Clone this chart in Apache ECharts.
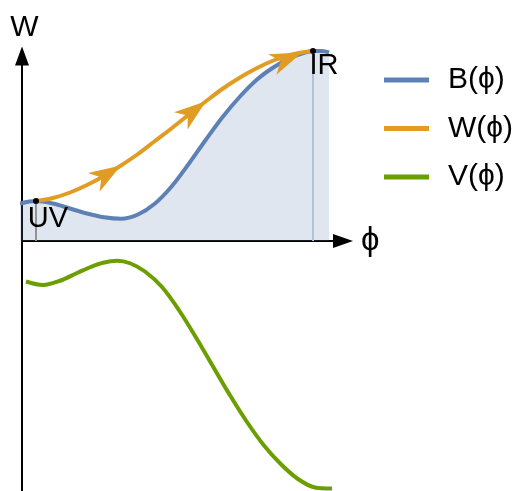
<!DOCTYPE html>
<html>
<head>
<meta charset="utf-8">
<script src="https://cdn.jsdelivr.net/npm/echarts@6/dist/echarts.min.js"></script>
<style>
  html, body { margin: 0; padding: 0; background: #fff; }
  #chart { width: 513px; height: 491px; }
</style>
</head>
<body>
<div id="chart"></div>
<script>
const FONT = '"Liberation Sans", "DejaVu Sans", sans-serif';

// B(ϕ): upper edge of the shaded region
const bPhi = [-0.08, 0.56, 1.24, 1.92, 2.60, 3.28, 3.96, 4.64, 5.32, 6.00, 6.68, 7.36, 8.04, 8.72, 9.40, 10.08, 10.76, 11.20, 11.64, 12.00, 12.28];
const bVal = [1.50, 1.60, 1.50, 1.30, 1.10, 0.95, 0.89, 1.06, 1.50, 2.20, 3.10, 4.06, 4.98, 5.78, 6.46, 6.96, 7.34, 7.50, 7.60, 7.60, 7.54];

// W(ϕ): flow from the UV point to the IR point
const wPhi = [0.56, 1.24, 1.92, 2.60, 3.28, 3.96, 4.64, 5.32, 6.00, 6.68, 7.36, 8.04, 8.72, 9.40, 10.08, 10.76, 11.20, 11.64];
const wVal = [1.60, 1.72, 1.94, 2.24, 2.60, 3.02, 3.48, 4.00, 4.52, 5.06, 5.59, 6.10, 6.54, 6.92, 7.23, 7.45, 7.54, 7.60];

// V(ϕ): potential
const vPhi = [0.16, 0.84, 1.52, 2.20, 2.72, 3.24, 3.80, 4.32, 4.92, 5.60, 6.28, 6.96, 7.64, 8.32, 9.00, 9.68, 10.36, 11.04, 11.72, 12.40];
const vVal = [-1.62, -1.76, -1.59, -1.28, -1.05, -0.87, -0.79, -0.89, -1.22, -1.84, -2.77, -3.86, -5.02, -6.17, -7.24, -8.18, -8.93, -9.52, -9.86, -9.90];

// fixed points of the flow
const fixedNames = ['UV', 'IR'];
const fixedPhi = [0.56, 11.64];
const fixedVal = [1.60, 7.60];

// arrowheads along W: index of the tail point and of the tip point
const arrowTail = [4, 9, 12];
const arrowTip = [5, 10, 16];

const seriesNames = ['B(ϕ)', 'W(ϕ)', 'V(ϕ)'];

const COLORS = { B: '#5E81B5', W: '#E19C24', V: '#6B9E00' };
const labelOffsets = [[12, 18], [11, 15]];
const dropColors = ['#939393', '#b2c1d9'];
const SMOOTH = 0.34;

const zip = (xs, ys) => xs.map((x, i) => [x, ys[i]]);

const chart = echarts.init(document.getElementById('chart'), null, { renderer: 'canvas' });

const arrowData = arrowTip.map((tip, i) => [wPhi[arrowTail[i]], wVal[arrowTail[i]], wPhi[tip], wVal[tip]]);

function renderArrow(params, api) {
  const tail = api.coord([api.value(0), api.value(1)]);
  const tip = api.coord([api.value(2), api.value(3)]);
  let dx = tip[0] - tail[0], dy = tip[1] - tail[1];
  const len = Math.hypot(dx, dy) || 1;
  dx /= len; dy /= len;
  const nx = -dy, ny = dx;
  // arrowhead outline in a local frame: x along the curve, y across it
  const shape = [[0, 0], [-32, -11], [-23, 0], [-32, 11]];
  const pts = shape.map(([lx, ly]) => [tip[0] + lx * dx + ly * nx, tip[1] + lx * dy + ly * ny]);
  return {
    type: 'polygon',
    shape: { points: pts },
    style: { fill: COLORS.W }
  };
}

// vertical drop line from a fixed point down to the ϕ axis
function renderDrop(params, api) {
  const top = api.coord([api.value(0), api.value(1)]);
  const base = api.coord([api.value(0), 0]);
  return {
    type: 'line',
    shape: { x1: base[0], y1: base[1], x2: top[0], y2: top[1] },
    style: { stroke: dropColors[params.dataIndex], lineWidth: 2 }
  };
}

const option = {
  animation: false,
  backgroundColor: '#fff',
  textStyle: { fontFamily: FONT },
  grid: { left: 22, right: 170, top: 56, bottom: 0, containLabel: false, outerBoundsMode: 'none' },
  legend: {
    data: seriesNames,
    orient: 'vertical',
    left: 379,
    top: 60,
    icon: 'rect',
    itemWidth: 45,
    itemHeight: 5,
    itemGap: 18.5,
    selectedMode: false,
    textStyle: { fontSize: 30, fontFamily: FONT, color: '#000', lineHeight: 30, padding: [0, 0, 0, 14] }
  },
  xAxis: {
    type: 'value',
    min: 0,
    max: 12.84,
    name: 'ϕ',
    nameLocation: 'end',
    nameGap: 18,
    nameTextStyle: { fontSize: 33, fontFamily: FONT, color: '#000' },
    axisLine: { show: true, onZero: true, symbol: ['none', 'triangle'], symbolSize: [14, 20], lineStyle: { color: '#000', width: 2 } },
    axisTick: { show: false },
    axisLabel: { show: false },
    splitLine: { show: false }
  },
  yAxis: {
    type: 'value',
    min: -10,
    max: 7.4,
    name: 'W',
    nameLocation: 'end',
    nameGap: 13,
    nameTextStyle: { fontSize: 30, fontFamily: FONT, color: '#000', align: 'center', padding: [0, 0, 0, 5] },
    axisLine: { show: true, onZero: true, symbol: ['none', 'triangle'], symbolSize: [14, 19], lineStyle: { color: '#000', width: 2 } },
    axisTick: { show: false },
    axisLabel: { show: false },
    splitLine: { show: false }
  },
  series: [
    {
      name: seriesNames[0],
      type: 'line',
      data: zip(bPhi, bVal),
      smooth: SMOOTH,
      showSymbol: false,
      clip: false,
      color: COLORS.B,
      lineStyle: { width: 4, color: COLORS.B },
      areaStyle: { color: COLORS.B, opacity: 0.2 },
      z: 2
    },
    {
      name: 'drop lines',
      type: 'custom',
      data: zip(fixedPhi, fixedVal),
      renderItem: renderDrop,
      clip: false,
      silent: true,
      z: 2
    },
    {
      name: seriesNames[1],
      type: 'line',
      data: zip(wPhi, wVal),
      smooth: SMOOTH,
      showSymbol: false,
      clip: false,
      color: COLORS.W,
      lineStyle: { width: 4, color: COLORS.W },
      z: 3
    },
    {
      name: 'arrowheads',
      type: 'custom',
      data: arrowData,
      renderItem: renderArrow,
      clip: false,
      silent: true,
      z: 4
    },
    {
      name: seriesNames[2],
      type: 'line',
      data: zip(vPhi, vVal),
      smooth: SMOOTH,
      showSymbol: false,
      clip: false,
      color: COLORS.V,
      lineStyle: { width: 4, color: COLORS.V },
      z: 3
    },
    {
      name: 'fixed points',
      type: 'scatter',
      data: fixedPhi.map((p, i) => ({
        name: fixedNames[i],
        value: [p, fixedVal[i]],
        label: { offset: labelOffsets[i] }
      })),
      symbolSize: 6,
      itemStyle: { color: '#000', opacity: 1 },
      clip: false,
      silent: true,
      z: 5,
      label: {
        show: true,
        position: 'inside',
        formatter: '{b}',
        fontSize: 29,
        fontFamily: FONT,
        color: '#000',
        opacity: 1,
        textBorderWidth: 0
      }
    }
  ]
};

chart.setOption(option);
</script>
</body>
</html>
